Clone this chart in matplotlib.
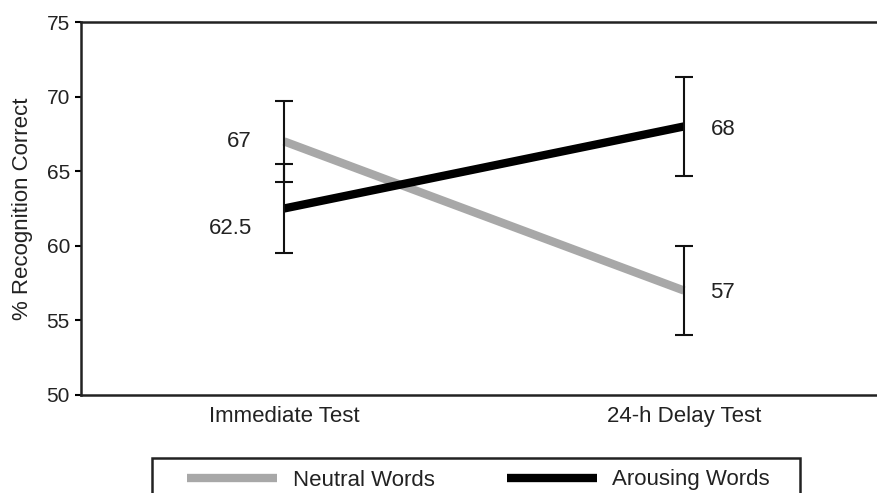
import numpy as np
import matplotlib
matplotlib.use('Agg')
from matplotlib import pyplot as plt
from matplotlib.patches import Rectangle

# data
conditions = ['Immediate Test', '24-h Delay Test']
neutral = [67, 57]
neutral_err = [2.7, 3.0]
arousing = [62.5, 68]
arousing_err = [3.0, 3.3]
series_names = ['Neutral Words', 'Arousing Words']
yticks = [50, 55, 60, 65, 70, 75]

plt.rcParams['font.family'] = ['Liberation Sans', 'DejaVu Sans']
text_color = '#222222'
gray = '#a8a8a8'

fig = plt.figure(figsize=(8.77, 4.93), dpi=100)
ax = fig.add_axes([81/877, 98/493, 1 - 81/877, 373/493])

x = np.arange(len(conditions))

ln_n, = ax.plot(x, neutral, color=gray, linewidth=6, solid_capstyle='butt', zorder=2)
ln_a, = ax.plot(x, arousing, color='black', linewidth=6, solid_capstyle='butt', zorder=3)
# capsize is half the cap width in matplotlib
ax.errorbar(x, neutral, yerr=neutral_err, fmt='none', ecolor='#111111',
            elinewidth=1.5, capsize=6.5, capthick=1.5, zorder=4)
ax.errorbar(x, arousing, yerr=arousing_err, fmt='none', ecolor='#111111',
            elinewidth=1.5, capsize=6.5, capthick=1.5, zorder=4)

# value labels: left of the first point, right of the second
offsets_n = [(-23, 0), (19, -1.5)]
offsets_a = [(-23, -14.5), (19, -2.5)]
for vals, offs in ((neutral, offsets_n), (arousing, offsets_a)):
    for i, v in enumerate(vals):
        ha = 'right' if i == 0 else 'left'
        ax.annotate('%g' % v, (x[i], v), xytext=offs[i], textcoords='offset points',
                    ha=ha, va='center', fontsize=16, color=text_color)

ax.set_xlim(-0.5075, 1.4825)
ax.set_ylim(50, 75)
ax.set_yticks(yticks)
ax.set_xticks(x)
ax.set_xticklabels(conditions)
ax.tick_params(axis='x', length=0, pad=8, labelsize=16, labelcolor=text_color)
ax.tick_params(axis='y', length=4, width=1.5, pad=4, labelsize=15, labelcolor=text_color)
ax.set_ylabel('% Recognition Correct', fontsize=16, color=text_color, labelpad=10)

for s in ('left', 'bottom', 'top'):
    ax.spines[s].set_linewidth(1.8)
    ax.spines[s].set_color('#222222')
ax.spines['right'].set_visible(False)

# legend box runs off the bottom of the figure as in the reference
fig.patches.append(Rectangle((152/877, -0.1), (800 - 152)/877, 0.1 + (1 - 458/493),
                             transform=fig.transFigure, fill=False,
                             edgecolor='#222222', linewidth=1.8))
fig.legend([ln_n, ln_a], series_names, loc='center left', bbox_to_anchor=(187/877, 1 - 480/493),
           ncol=2, frameon=False, fontsize=16, borderpad=0, borderaxespad=0,
           handlelength=4.05, handletextpad=0.7, columnspacing=3.25, labelcolor=text_color)

fig.savefig('out.png', dpi=100)
